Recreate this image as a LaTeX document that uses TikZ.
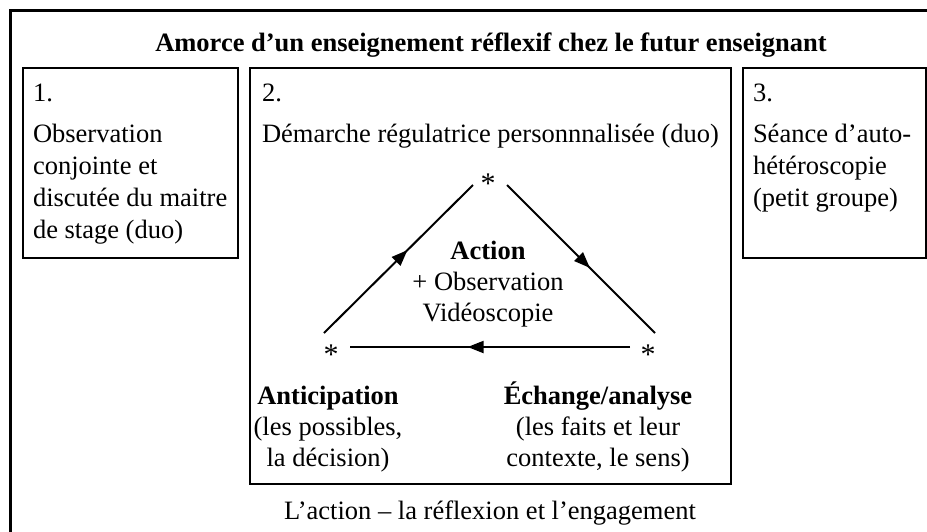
\documentclass[tikz,border=0pt]{standalone}
\usepackage{fontspec}
\setmainfont{Liberation Serif}
\usetikzlibrary{arrows.meta,decorations.markings}
\begin{document}
\begin{tikzpicture}[x=1pt,y=-1pt,
  every node/.style={inner sep=0pt,outer sep=0pt,font=\fontsize{26.5}{32}\selectfont},
  boxframe/.style={draw,line width=2pt},
  outerframe/.style={draw,line width=3pt},
  tri/.style={line width=2pt},
  midarrow/.style={postaction={decorate},decoration={markings,
     mark=at position #1 with {\arrow{Triangle[length=16pt,width=12pt]}}}},
  lbl/.style={align=left,anchor=base west},
  ctr/.style={align=center,anchor=base,font=\fontsize{26.5}{31}\selectfont},
  starnode/.style={anchor=base,font=\fontsize{30}{32}\selectfont}]
\useasboundingbox (0,0) rectangle (927,531);
\clip (0,0) rectangle (927,531);
% frames
\coordinate (o1) at (10,10);
\coordinate (o2) at (980,580);
\draw[outerframe] (o1) rectangle (o2);
\coordinate (b1a) at (23,68);  \coordinate (b1b) at (238,258);
\coordinate (b2a) at (250,68); \coordinate (b2b) at (731,484);
\coordinate (b3a) at (743,68); \coordinate (b3b) at (926,258);
\draw[boxframe] (b1a) rectangle (b1b);
\draw[boxframe] (b2a) rectangle (b2b);
\draw[boxframe] (b3a) rectangle (b3b);
% title
\node[anchor=base,font=\fontsize{26.5}{32}\selectfont\bfseries] (title) at (491,51) {Amorce d’un enseignement réflexif chez le futur enseignant};
% box 1 (multi-line nodes are placed by their last baseline)
\node[lbl] (n1) at (33,101) {1.};
\node[lbl] (t1) at (33,238) {Observation\\conjointe et\\discutée du maitre\\de stage (duo)};
% box 2
\node[lbl] (n2) at (262,101) {2.};
\node[lbl] (t2) at (262,142) {Démarche régulatrice personnnalisée (duo)};
% box 3
\node[lbl] (n3) at (753,101) {3.};
\node[lbl] (t3) at (753,206) {Séance d’auto-\\hétéroscopie\\(petit groupe)};
% triangle stars
\node[starnode] (sT) at (488,193) {*};
\node[starnode] (sL) at (331,364) {*};
\node[starnode] (sR) at (648,364) {*};
% triangle lines
\coordinate (l1) at (324,333); \coordinate (l2) at (473,185);
\coordinate (r1) at (507,185); \coordinate (r2) at (655,333);
\coordinate (h1) at (630,347); \coordinate (h2) at (350,347);
\draw[tri,midarrow=0.56] (l1) -- (l2);
\draw[tri,midarrow=0.56] (r1) -- (r2);
\draw[tri,midarrow=0.58] (h1) -- (h2);
% texts in triangle
\node[ctr] (act) at (488,321) {\textbf{Action}\\+ Observation\\Vidéoscopie};
\node[ctr] (ant) at (328,466) {\textbf{Anticipation}\\(les possibles,\\la décision)};
\node[ctr] (ech) at (598,466) {\textbf{Échange/analyse}\\(les faits et leur\\contexte, le sens)};
% bottom
\node[anchor=base] (foot) at (490,519) {L’action – la réflexion et l’engagement};
\end{tikzpicture}
\end{document}
